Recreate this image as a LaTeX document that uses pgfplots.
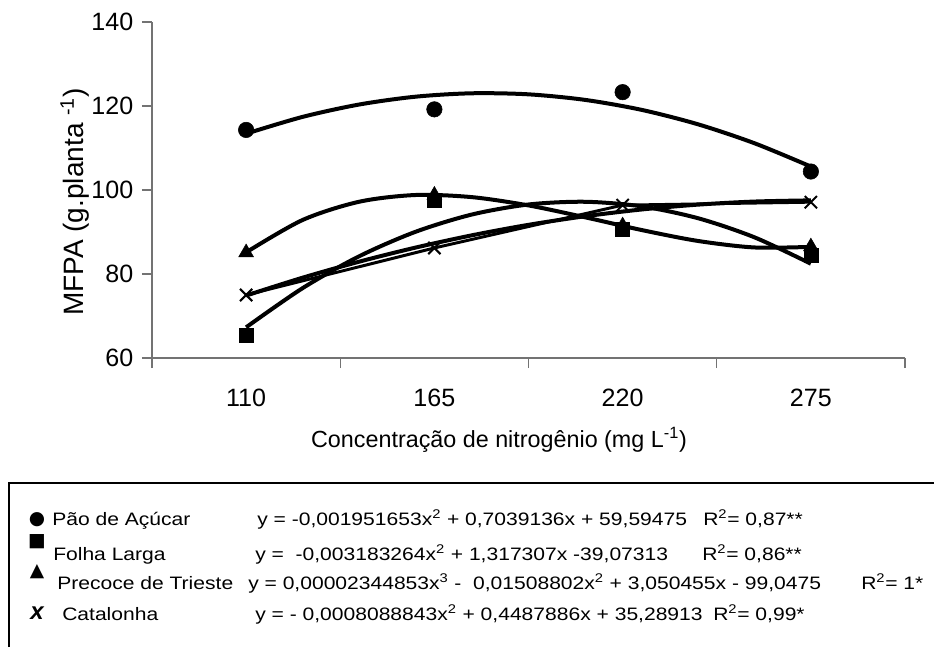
\documentclass[border=0pt]{standalone}
\usepackage{pgfplots}
\pgfplotsset{compat=1.18}
\usepackage{fontspec}
\setmainfont{Liberation Sans}
\newfontfamily\legfont[FakeStretch=1.17]{Liberation Sans}
\newfontfamily\symfont{DejaVu Sans}
\newcommand\tickfont{\fontsize{18.8}{20}\selectfont}
\begin{document}
\begin{tikzpicture}[x=0.75pt,y=0.75pt]
\path[use as bounding box] (0,0) rectangle (934,647);
\coordinate (A) at (152,289);
\begin{axis}[at={(A)}, anchor=south west, scale only axis,
  width=564.75pt, height=252pt,
  xmin=82.5, xmax=302.5, ymin=60, ymax=140,
  axis lines=left, axis line style={-, black!55, line width=0.9pt},
  xtick={82.5,137.5,192.5,247.5,302.5}, xticklabels={},
  extra x ticks={110,165,220,275},
  extra x tick labels={{\tickfont 110},{\tickfont 165},{\tickfont 220},{\tickfont 275}},
  extra x tick style={major tick length=0pt, tick style={draw=none}, xticklabel style={yshift=-20pt}},
  ytick={60,80,100,120,140},
  yticklabels={{\tickfont 60},{\tickfont 80},{\tickfont 100},{\tickfont 120},{\tickfont 140}},
  tick align=outside, tick style={black!55, line width=0.9pt},
  major tick length=7.5pt,
  yticklabel style={xshift=-3pt},
  clip=false,
]
% Pao de Acucar
\addplot[line width=3pt, smooth, no marks] coordinates {(110,113.41) (126.5,117.41) (143,120.35) (159.5,122.22) (176,123.03) (192.5,122.78) (209,121.46) (225.5,119.09) (242,115.65) (258.5,111.14) (275,105.58)};
\addplot[only marks, mark=*, mark size=5.8pt, black] coordinates {(110,114.3) (165,119.2) (220,123.3) (275,104.4)};
% Folha Larga
\addplot[line width=3pt, smooth, no marks] coordinates {(110,67.31) (126.5,76.63) (143,84.21) (159.5,90.05) (176,94.17) (192.5,96.55) (209,97.20) (225.5,96.11) (242,93.29) (258.5,88.74) (275,82.45)};
\addplot[only marks, mark=square*, mark size=5.3pt, black] coordinates {(110,65.5) (165,97.6) (220,90.7) (275,84.5)};
% Precoce de Trieste
\addplot[line width=3pt, smooth, no marks] coordinates {(110,85.15) (126.5,92.86) (143,97.20) (159.5,98.81) (176,98.30) (192.5,96.33) (209,93.51) (225.5,90.48) (242,87.87) (258.5,86.32) (275,86.46)};
\addplot[only marks, mark=triangle*, mark size=6.4pt, black] coordinates {(110,85.1) (165,98.8) (220,91.5) (275,86.5)};
% Catalonha
\addplot[line width=2.2pt, no marks] coordinates {(110,75.0) (165,86.2) (220,96.4) (275,97.1)};
\addplot[line width=3pt, smooth, no marks] coordinates {(110,74.87) (126.5,79.12) (143,82.93) (159.5,86.29) (176,89.22) (192.5,91.71) (209,93.75) (225.5,95.36) (242,96.52) (258.5,97.25) (275,97.53)};
\addplot[only marks, mark=x, mark size=6.5pt, line width=1.5pt, black] coordinates {(110,75.0) (165,86.2) (220,96.4) (275,97.1)};
\end{axis}
\node[rotate=90, font=\fontsize{21}{23}\selectfont] at (75,445) {MFPA (g.planta \textsuperscript{-1})};
\node[font=\fontsize{17.5}{20}\selectfont] at (499,207) {Concentração de nitrogênio (mg L\textsuperscript{-1})};
% legend box
\draw[line width=1.1pt] (9,0) -- (9,164) -- (934,164);
\begin{scope}[every node/.style={inner sep=0pt, anchor=base west, font=\legfont\fontsize{13.5}{15}\selectfont}]
\node[font=\symfont\fontsize{14}{15}\selectfont, anchor=center] at (37,127) {●};
\node[font=\symfont\fontsize{14}{15}\selectfont, anchor=center] at (37,105) {■};
\node[font=\symfont\fontsize{14}{15}\selectfont, anchor=center] at (37,75) {▲};
\node[font=\bfseries\itshape\fontsize{18}{19}\selectfont, anchor=center] at (37,34) {x};
\node at (52,122) {Pão de Açúcar};
\node at (53,87) {Folha Larga};
\node at (57,58) {Precoce de Trieste};
\node at (62,27) {Catalonha};
\node at (257,122) {y = -0,001951653x\textsuperscript{2} + 0,7039136x + 59,59475};
\node at (255,87) {y =\ \ -0,003183264x\textsuperscript{2} + 1,317307x -39,07313};
\node at (248,58) {y = 0,00002344853x\textsuperscript{3} -\ \ 0,01508802x\textsuperscript{2} + 3,050455x - 99,0475};
\node at (255,27) {y = - 0,0008088843x\textsuperscript{2} + 0,4487886x + 35,28913};
\node at (703,122) {R\textsuperscript{2}= 0,87**};
\node at (702,87) {R\textsuperscript{2}= 0,86**};
\node at (861,58) {R\textsuperscript{2}= 1*};
\node at (713,27) {R\textsuperscript{2}= 0,99*};
\end{scope}
\end{tikzpicture}
\end{document}
